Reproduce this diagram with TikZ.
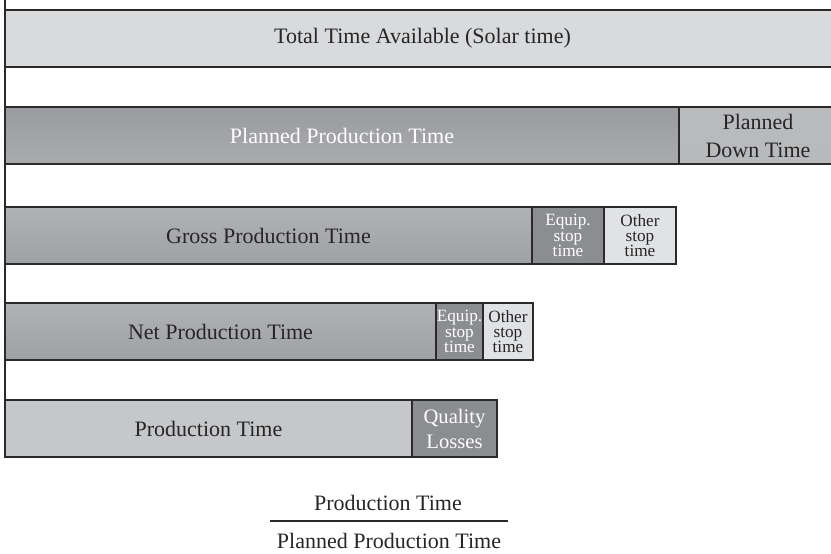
\documentclass[tikz,border=0pt]{standalone}
\usepackage{fontspec}
\setmainfont{Liberation Serif}
\usetikzlibrary{positioning}

\definecolor{barline}{HTML}{2A2A2B}
\definecolor{inkdark}{HTML}{262627}
\definecolor{totalgray}{HTML}{D9DADC}
\definecolor{plantop}{HTML}{9A9B9F}
\definecolor{planmid}{HTML}{85868A}
\definecolor{planbot}{HTML}{AAABAF}
\definecolor{downtop}{HTML}{BABBBD}
\definecolor{downmid}{HTML}{D0D1D3}
\definecolor{downbot}{HTML}{B8B9BB}
\definecolor{grossgray}{HTML}{A8A9AC}
\definecolor{equipgray}{HTML}{8C8D90}
\definecolor{othergray}{HTML}{E1E2E4}
\definecolor{prodgray}{HTML}{C6C7C9}

\begin{document}
\begin{tikzpicture}[x=0.5pt,y=-0.5pt,
    seg/.style={draw=barline, line width=0.9pt, rectangle, inner sep=0pt, outer sep=0pt,
        minimum height=28.5pt, text=inkdark, align=center, font=\fontsize{11}{13}\selectfont},
    smallseg/.style={seg, font=\fontsize{8.6}{7.6}\selectfont},
    equipseg/.style={smallseg, fill=equipgray, text=white},
    otherseg/.style={smallseg, fill=othergray}]

    \useasboundingbox (0,0) rectangle (831,553);
    \clip (0,0) rectangle (831,553);

    \node[seg, fill=totalgray, minimum width=417.5pt, anchor=north west] (total) at (5,10) {Total Time Available (Solar time)};

    \node[seg, top color=plantop, middle color=planmid, bottom color=planbot, text=white, minimum width=337pt, anchor=north west] (planned) at (5,107) {Planned Production Time};
    \node[seg, top color=downtop, middle color=downmid, bottom color=downbot, minimum width=79pt, font=\fontsize{11}{14}\selectfont, right=0pt of planned] (down) {Planned\\Down Time};

    \node[seg, top color=grossgray!90!white, bottom color=grossgray!95!black, minimum width=263.5pt, anchor=north west] (gross) at (5,207) {Gross Production Time};
    \node[equipseg, minimum width=36pt, right=0pt of gross] (grossequip) {Equip.\\stop\\time};
    \node[otherseg, minimum width=36pt, right=0pt of grossequip] (grossother) {Other\\stop\\time};

    \node[seg, top color=grossgray!90!white, bottom color=grossgray!95!black, minimum width=215.5pt, anchor=north west] (net) at (5,303) {Net Production Time};
    \node[equipseg, minimum width=23.5pt, right=0pt of net] (netequip) {Equip.\\stop\\time};
    \node[otherseg, minimum width=25pt, right=0pt of netequip] (netother) {Other\\stop\\time};

    \node[seg, fill=prodgray, minimum width=203.5pt, anchor=north west] (prod) at (5,400) {Production Time};
    \node[seg, fill=equipgray, text=white, minimum width=42.5pt, font=\fontsize{10.3}{12.5}\selectfont, right=0pt of prod] (quality) {Quality\\Losses};

    \coordinate (axistop) at (5,0);
    \coordinate (axisbot) at (5,458);
    \draw[barline, line width=1.2pt] (axistop) -- (axisbot);

    \node[text=inkdark, font=\fontsize{11}{13}\selectfont] (ratiotop) at (388,503) {Production Time};
    \node[text=inkdark, font=\fontsize{11}{13}\selectfont] (ratiobot) at (389,541) {Planned Production Time};
    \coordinate (ruleleft) at (270,521);
    \coordinate (ruleright) at (508,521);
    \draw[barline, line width=1pt] (ruleleft) -- (ruleright);
\end{tikzpicture}
\end{document}
